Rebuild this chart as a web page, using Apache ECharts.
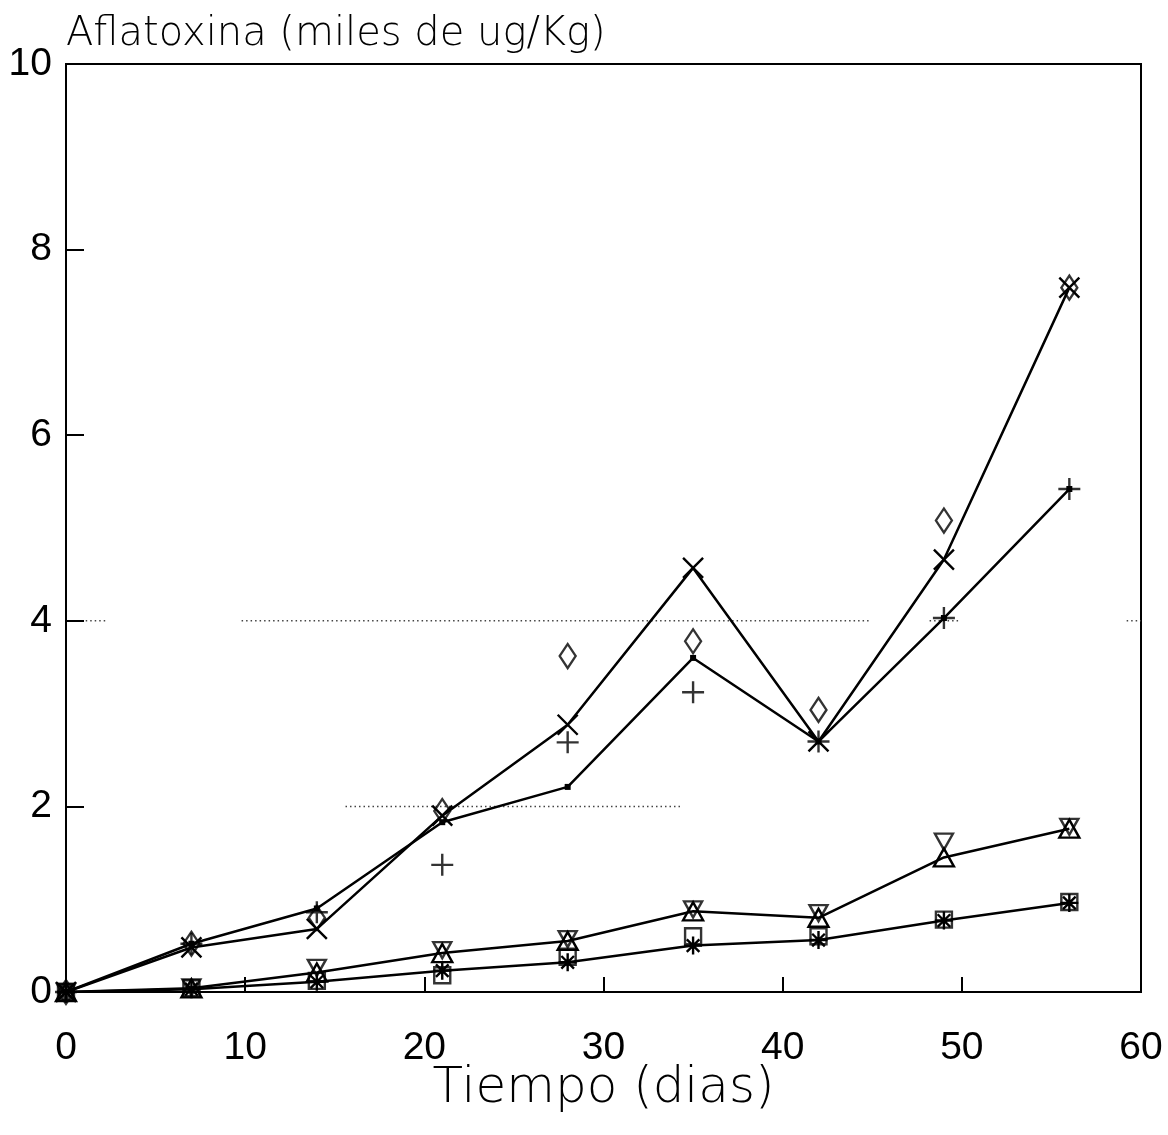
<!DOCTYPE html>
<html>
<head>
<meta charset="utf-8">
<script src="https://cdn.jsdelivr.net/npm/echarts@6/dist/echarts.min.js"></script>
<style>html,body{margin:0;padding:0;background:#fff}#c{width:1168px;height:1135px}</style>
</head>
<body>
<div id="c"></div>
<script>
// ---- data ----
var days = [0, 7, 14, 21, 28, 35, 42, 49, 56];
var serieCruz = [0, 0.48, 0.68, 1.90, 2.88, 4.57, 2.70, 4.66, 7.59];
var seriePunto = [0, 0.52, 0.90, 1.83, 2.21, 3.60, 2.70, 4.03, 5.42];
var rombos = [0, 0.52, 0.80, 1.95, 3.62, 3.78, 3.04, 5.08, 7.59];
var cruces = [0, 0.52, 0.86, 1.37, 2.69, 3.23, 2.70, 4.03, 5.42];
var serieTriangulo = [0, 0.04, 0.21, 0.42, 0.55, 0.87, 0.80, 1.45, 1.76];
var trianguloInv = [0, 0.05, 0.26, 0.45, 0.57, 0.89, 0.85, 1.62, 1.78];
var serieAsterisco = [0, 0.03, 0.11, 0.23, 0.32, 0.50, 0.56, 0.77, 0.96];
var cuadrados = [0, 0.04, 0.12, 0.18, 0.38, 0.60, 0.60, 0.78, 0.97];
// partial dotted reference lines [y, xStart, xEnd]
var lineasPunteadas = [[4, 1.1, 2.2], [4, 9.8, 44.8], [4, 48.2, 49.9], [4, 59.2, 60], [2, 15.6, 34.3]];
var xTicks = {min: 0, max: 60, interval: 10};
var yTicks = {min: 0, max: 10, interval: 2};

function pts(vals) { return days.map(function (d, i) { return [d, vals[i]]; }); }

var black = '#000';
var hollow = {color: 'rgba(0,0,0,0)', borderColor: black, borderWidth: 2.4};
var P_X = 'path://M0,0L20,20M20,0L0,20';
var P_PLUS = 'path://M10,0L10,20M0,10L20,10';
var P_AST = 'path://M10,0L10,20M0,10L20,10M3,3L17,17M17,3L3,17';
var P_INV = 'path://M0,0L20,0L10,18Z';

var series = [];
lineasPunteadas.forEach(function (s) {
  series.push({type: 'line', silent: true, symbol: 'none', data: [[s[1], s[0]], [s[2], s[0]]],
    lineStyle: {color: '#444', width: 1.5, type: [1.5, 3]}, z: 1});
});
series.push({type: 'line', data: pts(serieCruz), symbol: P_X, symbolSize: 20,
  itemStyle: hollow, lineStyle: {color: black, width: 2.5}});
series.push({type: 'line', data: pts(seriePunto), symbol: 'rect', symbolSize: 6,
  itemStyle: {color: black}, lineStyle: {color: black, width: 2.5}});
series.push({type: 'scatter', data: pts(rombos), symbol: 'diamond', symbolSize: [16, 24],
  itemStyle: hollow});
series.push({type: 'scatter', data: pts(cruces), symbol: P_PLUS, symbolSize: 22,
  itemStyle: hollow});
series.push({type: 'line', data: pts(serieTriangulo), symbol: 'triangle', symbolSize: [20, 18],
  itemStyle: hollow, lineStyle: {color: black, width: 2.5}});
series.push({type: 'scatter', data: pts(trianguloInv), symbol: P_INV, symbolSize: [18, 16],
  itemStyle: hollow});
series.push({type: 'line', data: pts(serieAsterisco), symbol: P_AST, symbolSize: 18,
  itemStyle: hollow, lineStyle: {color: black, width: 2.5}});
series.push({type: 'scatter', data: pts(cuadrados), symbol: 'rect', symbolSize: 16,
  itemStyle: hollow});

var chart = echarts.init(document.getElementById('c'), null, {renderer: 'canvas'});
chart.setOption({
  animation: false,
  backgroundColor: '#fff',
  grid: {left: 66, right: 27, top: 64, bottom: 143, show: true, borderColor: black, borderWidth: 2, backgroundColor: 'transparent'},
  xAxis: {
    type: 'value', min: xTicks.min, max: xTicks.max, interval: xTicks.interval,
    name: 'Tiempo (dias)', nameLocation: 'middle', nameGap: 72, nameMoveOverlap: false,
    nameTextStyle: {fontFamily: 'DejaVu Sans', fontWeight: 200, fontSize: 50, color: black},
    axisLine: {show: true, lineStyle: {color: black, width: 2}},
    axisTick: {show: true, inside: true, length: 15, lineStyle: {color: black, width: 2}},
    axisLabel: {fontFamily: 'Liberation Sans', fontSize: 39, color: black, margin: 37},
    splitLine: {show: false}
  },
  yAxis: {
    type: 'value', min: yTicks.min, max: yTicks.max, interval: yTicks.interval,
    name: 'Aflatoxina (miles de ug/Kg)', nameLocation: 'end', nameGap: 9,
    nameTextStyle: {fontFamily: 'DejaVu Sans', fontWeight: 200, fontSize: 40, color: black, align: 'left'},
    axisLine: {show: true, lineStyle: {color: black, width: 2}},
    axisTick: {show: true, inside: true, length: 18, lineStyle: {color: black, width: 2}},
    axisLabel: {fontFamily: 'Liberation Sans', fontSize: 39, color: black, margin: 14},
    splitLine: {show: false}
  },
  series: series
});
</script>
</body>
</html>
